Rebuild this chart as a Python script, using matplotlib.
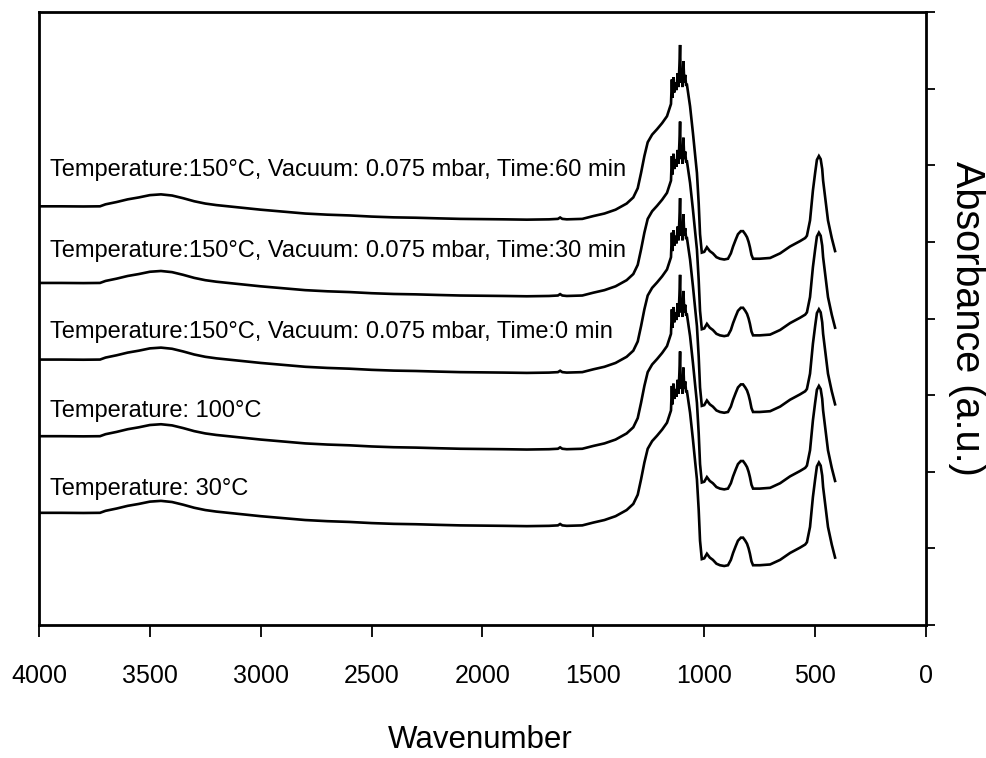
import matplotlib
matplotlib.use("Agg")
import matplotlib.pyplot as plt
import numpy as np

# ---- data ----
wavenumber = [4000, 3900, 3800, 3725, 3700, 3650, 3600, 3550, 3500, 3450, 3400, 3350,
              3300, 3250, 3200, 3100, 3000, 2900, 2800, 2700, 2600, 2500, 2400, 2300,
              2200, 2100, 2000, 1900, 1800, 1700, 1660, 1650, 1640, 1620, 1550, 1500,
              1450, 1400, 1350, 1320, 1300, 1285, 1270, 1255, 1235, 1213, 1190, 1168,
              1150, 1146, 1143, 1139, 1135, 1130, 1125, 1120, 1116, 1112, 1109, 1106,
              1102, 1098, 1094, 1090, 1086, 1082, 1078, 1064, 1051, 1040, 1033, 1025,
              1019, 1011, 1000, 988, 975, 961, 945, 929, 910, 893, 880, 870, 858, 848,
              835, 825, 815, 807, 800, 794, 787, 780, 750, 703, 658, 613, 568, 545,
              537, 523, 510, 500, 492, 483, 475, 468, 464, 442, 425, 410]

base_absorbance = [1.464, 1.464, 1.462, 1.464, 1.49, 1.52, 1.555, 1.58, 1.61, 1.62, 1.605, 1.57,
                   1.53, 1.50, 1.48, 1.45, 1.42, 1.395, 1.37, 1.355, 1.345, 1.33, 1.32, 1.315,
                   1.307, 1.30, 1.297, 1.294, 1.29, 1.294, 1.30, 1.318, 1.30, 1.294, 1.30, 1.337,
                   1.37, 1.42, 1.50, 1.58, 1.70, 1.90, 2.12, 2.30, 2.40, 2.47, 2.55, 2.64,
                   2.80, 3.12, 2.88, 3.15, 2.95, 3.08, 2.98, 3.20, 3.02, 3.30, 3.57, 3.08,
                   3.22, 3.02, 3.36, 3.08, 3.18, 3.05, 3.05, 2.77, 2.42, 2.10, 1.90, 1.50,
                   1.10, 0.86, 0.87, 0.93, 0.88, 0.85, 0.80, 0.78, 0.77, 0.78, 0.85, 0.94, 1.03, 1.10,
                   1.14, 1.14, 1.10, 1.06, 1.00, 0.93, 0.83, 0.78, 0.78, 0.79, 0.85, 0.94, 1.01, 1.05,
                   1.08, 1.28, 1.67, 1.90, 2.07, 2.12, 2.08, 1.95, 1.80, 1.28, 1.05, 0.88]

series_labels = ["Temperature: 30°C",
                 "Temperature: 100°C",
                 "Temperature:150°C, Vacuum: 0.075 mbar, Time:0 min",
                 "Temperature:150°C, Vacuum: 0.075 mbar, Time:30 min",
                 "Temperature:150°C, Vacuum: 0.075 mbar, Time:60 min"]
series_offsets = [0, 1, 2, 3, 4]

x_ticks = [4000, 3500, 3000, 2500, 2000, 1500, 1000, 500, 0]
x_tick_labels = ["4000", "3500", "3000", "2500", "2000", "1500", "1000", "500", "0"]
y_ticks = [0, 1, 2, 3, 4, 5, 6, 7, 8]

# ---- figure ----
sans = ["Liberation Sans", "DejaVu Sans"]

fig = plt.figure(figsize=(9.87, 7.58), dpi=100)
ax = fig.add_axes([39 / 987, 133 / 758, 887 / 987, 613 / 758])

wn = np.array(wavenumber)
ab = np.array(base_absorbance)
label_baselines = [1.70, 2.71, 3.75, 4.80, 5.86]
for off, lab, yb in zip(series_offsets, series_labels, label_baselines):
    ax.plot(wn, ab + off, color="black", lw=1.9, solid_joinstyle="miter")
    ax.text(3950, yb, lab, family=sans, fontsize=17, va="baseline", ha="left")

ax.set_xlim(4000, 0)
ax.set_ylim(0, 8)
ax.set_xticks(x_ticks)
ax.set_xticklabels(x_tick_labels, family=sans, fontsize=18)
ax.yaxis.tick_right()
ax.set_yticks(y_ticks)
ax.set_yticklabels([])
ax.tick_params(axis="x", direction="out", length=8.5, width=1.3, pad=19.5)
ax.tick_params(axis="y", direction="out", length=6.5, width=1.3)

for s in ax.spines.values():
    s.set_linewidth(2.0)

ax.set_xlabel("Wavenumber", family=sans, fontsize=22.5, va="center")
ax.xaxis.set_label_coords((480 - 39) / 887, (625 - 740) / 613)

ax.yaxis.set_label_position("right")
ax.set_ylabel("Absorbance (a.u.)", family=sans, fontsize=28.5, rotation=270,
              va="center", ha="center")
ax.yaxis.set_label_coords((967 - 39) / 887, (625 - 318) / 613)

fig.savefig("out.png", dpi=100)
